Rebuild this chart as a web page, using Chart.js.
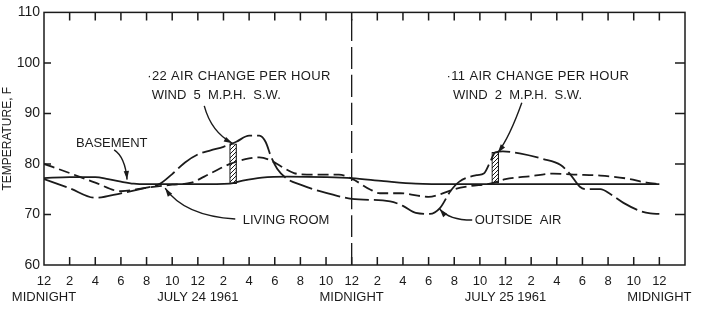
<!DOCTYPE html>
<html lang="en">
<head>
  <meta charset="UTF-8" />
  <title>House temperatures, July 24-25 1961</title>
  <script src="https://cdn.jsdelivr.net/npm/chart.js"></script>
  <style>
    html, body { margin: 0; padding: 0; background: #fff; }
    .wrap { width: 705px; height: 310px; }
  </style>
</head>
<body>
<div class="wrap"><canvas id="tempChart"></canvas></div>

<script>
  // hours counted from midnight, July 24 1961
  const basementHours = [0, 2, 4, 5, 6, 7, 8, 12, 14.5, 15.5, 17, 19, 22, 24, 26.5, 29, 32, 36, 40, 44, 48];
  const basementTemps = [77.2, 77.4, 77.4, 77.0, 76.5, 76.1, 76.0, 76.0, 76.1, 76.7, 77.3, 77.5, 77.4, 77.2, 76.6, 76.1, 76.0, 76.0, 76.0, 76.0, 76.0];

  const livingHours = [0, 2, 4, 6, 8, 10, 11.5, 12.5, 13.2, 14.5, 16, 16.8, 17.6, 18.5, 19.5, 20.5, 23, 24,
                       25.4, 26.2, 27.8, 30, 31, 32, 33.2, 34.8, 36, 38, 39.7, 41.3, 43.4, 45.5, 47, 48];
  const livingTemps = [80.0, 78.2, 76.3, 74.6, 75.3, 75.9, 76.3, 77.5, 78.4, 80.0, 81.1, 81.3, 80.8, 79.5, 78.2, 77.9, 77.9, 77.1,
                       75.0, 74.2, 74.2, 73.5, 74.1, 75.0, 75.6, 76.1, 77.0, 77.6, 78.1, 77.9, 77.7, 77.1, 76.3, 76.0];

  const outsideHours = [0, 2, 4, 6, 8, 9, 10, 11, 12, 13, 14, 15, 16, 16.8, 17.3, 17.7, 18.2, 19, 20, 21, 22, 24,
                        27, 28, 29, 30.1, 30.9, 31.7, 32.4, 33.8, 34.3, 34.8, 35.2, 35.8, 37.1, 38.9, 40.3, 41, 41.8,
                        42.3, 43.4, 44.2, 45.2, 46.5, 47.3, 48];
  const outsideTemps = [77.0, 75.2, 73.3, 74.2, 75.3, 76.0, 78.0, 80.3, 81.9, 82.7, 83.4, 84.4, 85.6, 85.6, 84.3, 81.5, 79.0, 77.0, 75.9, 75.0, 74.3, 73.1,
                        72.6, 71.7, 70.3, 70.1, 71.3, 74.6, 76.5, 77.8, 78.1, 80.4, 82.3, 82.5, 82.1, 81.0, 79.8, 78.1, 75.5,
                        75.0, 75.0, 74.0, 72.3, 70.7, 70.2, 70.1];

  // hatched columns: outside air above basement at the .22 and .11 tests
  const hatchHours = [14.75, 35.2];
  const hatchLow = [76.1, 76.2];
  const hatchHigh = [84.0, 82.3];

  const tickHours = [0, 2, 4, 6, 8, 10, 12, 14, 16, 18, 20, 22, 24, 26, 28, 30, 32, 34, 36, 38, 40, 42, 44, 46, 48];
  const hourLabels = ['12', '2', '4', '6', '8', '10', '12', '2', '4', '6', '8', '10', '12',
                      '2', '4', '6', '8', '10', '12', '2', '4', '6', '8', '10', '12'];
  const dayLabelHours = [0, 12, 24, 36, 48];
  const dayLabels = ['MIDNIGHT', 'JULY 24 1961', 'MIDNIGHT', 'JULY 25 1961', 'MIDNIGHT'];

  const INK = '#1b1b1b';
  const FONT = '"Liberation Sans", Arial, sans-serif';

  // notes written on the plot (hour, temperature of left/middle of text)
  const notes = [
    { text: '·22 AIR CHANGE PER HOUR', h: 8.05, t: 97.35, gap: 0.35 },
    { text: 'WIND  5  M.P.H.  S.W.', h: 8.4, t: 93.5, gap: 0 },
    { text: 'BASEMENT', h: 2.5, t: 84.1, gap: 0 },
    { text: 'LIVING ROOM', h: 15.5, t: 68.8, gap: 0 },
    { text: '·11 AIR CHANGE PER HOUR', h: 31.4, t: 97.35, gap: 0.35 },
    { text: 'WIND  2  M.P.H.  S.W.', h: 31.9, t: 93.5, gap: 0 },
    { text: 'OUTSIDE  AIR', h: 33.6, t: 68.8, gap: 0 }
  ];
  // pointer curves: start, control, tip (hour, temperature)
  const pointers = [
    [[5.47, 82.8], [6.33, 81.4], [6.48, 76.9]],
    [[12.5, 91.5], [13.05, 86.3], [14.7, 84.1]],
    [[37.27, 92.1], [36.33, 85.4], [35.4, 82.2]],
    [[14.92, 69.1], [10.94, 69.7], [9.45, 75.2]],
    [[33.4, 68.9], [31.6, 68.9], [30.86, 71.1]]
  ];

  const pairs = (xs, ys) => xs.map((x, i) => ({ x, y: ys[i] }));

  function hatchPattern() {
    const c = document.createElement('canvas');
    c.width = 4; c.height = 4;
    const g = c.getContext('2d');
    g.fillStyle = '#fff';
    g.fillRect(0, 0, 4, 4);
    g.strokeStyle = INK;
    g.lineWidth = 1;
    g.beginPath();
    g.moveTo(0, 4); g.lineTo(4, 0);
    g.moveTo(-1, 1); g.lineTo(1, -1);
    g.moveTo(3, 5); g.lineTo(5, 3);
    g.stroke();
    return g.createPattern(c, 'repeat');
  }

  function xLabel(v) {
    const i = tickHours.indexOf(v);
    if (i < 0) return '';
    const d = dayLabelHours.indexOf(v);
    return d >= 0 ? [hourLabels[i], dayLabels[d]] : hourLabels[i];
  }

  const notesPlugin = {
    id: 'notes',
    afterDatasetsDraw(chart) {
      const { ctx, chartArea: a, scales: { x, y } } = chart;
      ctx.save();
      ctx.strokeStyle = INK;
      ctx.fillStyle = INK;

      // frame with inward ticks
      ctx.lineWidth = 1.5;
      ctx.strokeRect(a.left, a.top, a.right - a.left, a.bottom - a.top);
      ctx.beginPath();
      x.ticks.forEach(t => {
        if (t.value <= x.min || t.value >= x.max) return;
        const px = x.getPixelForValue(t.value);
        ctx.moveTo(px, a.top); ctx.lineTo(px, a.top + 8);
        ctx.moveTo(px, a.bottom); ctx.lineTo(px, a.bottom - 8);
      });
      y.ticks.forEach(t => {
        if (t.value <= y.min || t.value >= y.max) return;
        const py = y.getPixelForValue(t.value);
        ctx.moveTo(a.left, py); ctx.lineTo(a.left + 7, py);
        ctx.moveTo(a.right, py); ctx.lineTo(a.right - 10, py);
      });
      ctx.stroke();

      // text on the plot
      ctx.font = '13px ' + FONT;
      ctx.textAlign = 'left';
      ctx.textBaseline = 'middle';
      notes.forEach(n => {
        ctx.letterSpacing = n.gap + 'px';
        ctx.fillText(n.text, x.getPixelForValue(n.h), y.getPixelForValue(n.t));
      });
      ctx.letterSpacing = '0px';

      // pointer curves with arrow heads
      ctx.lineWidth = 1.4;
      pointers.forEach(p => {
        const [s, c, e] = p.map(([h, t]) => [x.getPixelForValue(h), y.getPixelForValue(t)]);
        ctx.beginPath();
        ctx.moveTo(s[0], s[1]);
        ctx.quadraticCurveTo(c[0], c[1], e[0], e[1]);
        ctx.stroke();
        const ang = Math.atan2(e[1] - c[1], e[0] - c[0]);
        ctx.beginPath();
        ctx.moveTo(e[0], e[1]);
        ctx.lineTo(e[0] - 9 * Math.cos(ang - 0.3), e[1] - 9 * Math.sin(ang - 0.3));
        ctx.lineTo(e[0] - 9 * Math.cos(ang + 0.3), e[1] - 9 * Math.sin(ang + 0.3));
        ctx.closePath();
        ctx.fill();
      });
      ctx.restore();
    }
  };

  const lineStyle = { borderColor: INK, borderWidth: 1.8, pointRadius: 0, fill: false, cubicInterpolationMode: 'monotone' };

  new Chart(document.getElementById('tempChart'), {
    type: 'line',
    data: {
      datasets: [
        { label: 'Basement', data: pairs(basementHours, basementTemps), ...lineStyle },
        { label: 'Living room', data: pairs(livingHours, livingTemps), ...lineStyle, borderDash: [11, 5] },
        { label: 'Outside air', data: pairs(outsideHours, outsideTemps), ...lineStyle, borderDash: [24, 5] },
        { label: 'Midnight', data: [{ x: 24, y: 60 }, { x: 24, y: 110 }], ...lineStyle, borderWidth: 1.3, borderDash: [22, 6] },
        {
          type: 'bar',
          label: 'Air change',
          data: hatchHours.map((h, i) => ({ x: h, y: [hatchLow[i], hatchHigh[i]] })),
          backgroundColor: hatchPattern(),
          borderColor: INK,
          borderWidth: 1.2,
          borderSkipped: false,
          barThickness: 7
        }
      ]
    },
    options: {
      responsive: true,
      maintainAspectRatio: false,
      animation: false,
      layout: { padding: { top: 8, right: 20, bottom: 0, left: 0 } },
      plugins: { legend: { display: false }, tooltip: { enabled: false } },
      scales: {
        x: {
          type: 'linear',
          min: 0,
          max: 50,
          offset: false,
          grid: { display: false, drawTicks: false },
          border: { display: false },
          ticks: {
            stepSize: 2,
            autoSkip: false,
            maxRotation: 0,
            padding: 9,
            color: INK,
            font: { family: FONT, size: 13 },
            callback: v => xLabel(v)
          },
          afterFit: s => { s.height = 45; }
        },
        y: {
          min: 60,
          max: 110,
          grid: { display: false, drawTicks: false },
          border: { display: false },
          ticks: { stepSize: 10, padding: 4, color: INK, font: { family: FONT, size: 14 } },
          title: { display: true, text: 'TEMPERATURE, F', padding: 0, color: INK, font: { family: FONT, size: 12 } },
          afterFit: s => { s.width = 44; }
        }
      }
    },
    plugins: [notesPlugin]
  });
</script>
</body>
</html>
